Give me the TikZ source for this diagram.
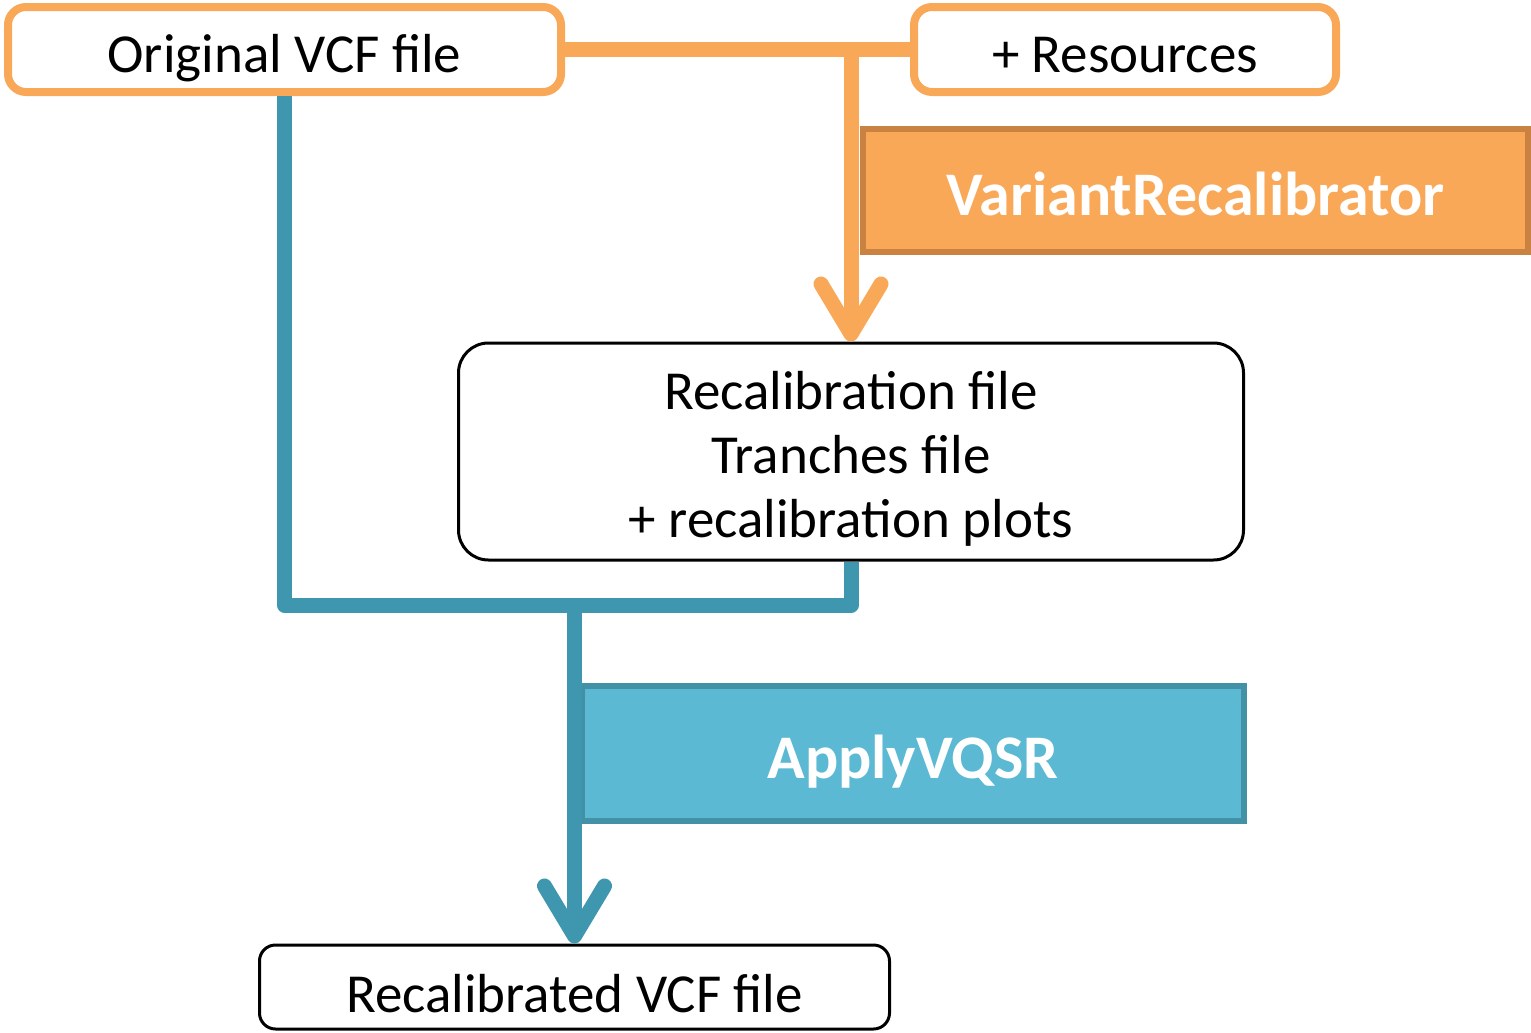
\documentclass[tikz,border=0pt]{standalone}
\usepackage{fontspec}
\setmainfont{Carlito}
\usetikzlibrary{arrows.meta}
\definecolor{orangeA}{HTML}{F9A857}
\definecolor{orangeB}{HTML}{C98242}
\definecolor{tealA}{HTML}{3E97AE}
\definecolor{cyanA}{HTML}{5BB9D3}
\definecolor{cyanB}{HTML}{4391A6}
% lower the text baseline to #1 below the node centre
\newcommand{\lowr}[2]{\raisebox{-#1}[0pt][0pt]{#2}}
\tikzset{
  filebox/.style={draw=orangeA, line width=4pt, rounded corners=9pt, fill=white,
    font=\fontsize{27.5}{32}\selectfont, inner sep=0pt},
  blackbox/.style={draw=black, line width=1.5pt, fill=white,
    font=\fontsize{27.5}{32}\selectfont, inner sep=0pt},
  toolbox/.style={line width=3pt, font=\bfseries\fontsize{31}{36}\selectfont,
    text=white, inner sep=0pt},
  orangeline/.style={draw=orangeA, line width=7.5pt},
  tealline/.style={draw=tealA, line width=7.5pt},
  chev/.style={-{Straight Barb[length=25pt,width=30pt,round]}},
}
\begin{document}
\begin{tikzpicture}[x=0.5pt,y=-0.5pt]
\useasboundingbox[fill=white] (0,0) rectangle (1531,1033);
% tool boxes
\node[toolbox, draw=orangeB, fill=orangeA, minimum width=332.5pt, minimum height=61.5pt]
  (vr) at (1195.5,190.5) {\lowr{12.5pt}{VariantRecalibrator}};
\node[toolbox, draw=cyanB, fill=cyanA, minimum width=331pt, minimum height=67.5pt]
  (avq) at (913,753.5) {\lowr{12.25pt}{ApplyVQSR}};
% file boxes
\node[filebox, minimum width=276.5pt, minimum height=42.5pt] (orig) at (284.5,49.5)
  {\lowr{11.5pt}{Original VCF file}};
\node[filebox, minimum width=211pt, minimum height=42.5pt] (res) at (1125,49.5)
  {\lowr{11.5pt}{+ Resources}};
\node[blackbox, rounded corners=15pt, minimum width=392.5pt, minimum height=108.5pt]
  (recal) at (851,451.5)
  {\raisebox{21pt}[0pt][0pt]{\begin{tabular}[t]{@{}c@{}}Recalibration file\\Tranches file\\+ recalibration plots\end{tabular}}};
\node[blackbox, rounded corners=8pt, minimum width=315pt, minimum height=42pt]
  (out) at (574.5,987) {\lowr{12.5pt}{Recalibrated VCF file}};
% orange connectors
\coordinate (jo) at (851,48);
\draw[orangeline] (orig.east) -- (res.west);
\draw[orangeline, chev] (jo) -- (recal.north);
% teal connectors
\coordinate (jb) at (574.5,605);
\draw[tealline, line join=round] (orig.south) |- (jb) -| (recal.south);
\draw[tealline, chev] (jb) -- (out.north);
\end{tikzpicture}
\end{document}
